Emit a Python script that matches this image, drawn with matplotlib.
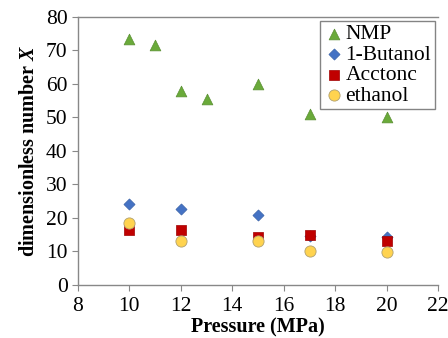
import matplotlib
matplotlib.use("Agg")
import matplotlib.pyplot as plt

nmp_x = [10, 11, 12, 13, 15, 17, 20]
nmp_y = [73.5, 71.5, 58, 55.5, 60, 51, 50]
but_x = [10, 12, 15, 17, 20]
but_y = [24.3, 22.7, 21, 14.5, 14.3]
ace_x = [10, 12, 15, 17, 20]
ace_y = [16.5, 16.5, 14.2, 15, 13]
eth_x = [10, 12, 15, 17, 20]
eth_y = [18.5, 13, 13.2, 10, 9.7]
labels = ["NMP", "1-Butanol", "Acctonc", "ethanol"]

plt.rcParams['font.family'] = ['Liberation Serif', 'DejaVu Serif']
plt.rcParams['mathtext.fontset'] = 'custom'
plt.rcParams['mathtext.it'] = 'Liberation Serif:italic:bold'
plt.rcParams['mathtext.rm'] = 'Liberation Serif:bold'
fig = plt.figure(figsize=(4.48, 3.38), dpi=100)
ax = fig.add_axes([0.174, 0.157, 0.804, 0.793])

ax.scatter(nmp_x, nmp_y, marker='^', s=60, color='#6aaa3a', edgecolors='#5a8f32', linewidths=0.5, label=labels[0], zorder=3)
ax.scatter(but_x, but_y, marker='D', s=32, color='#4472c4', edgecolors='#3a62a8', linewidths=0.5, label=labels[1], zorder=3)
ax.scatter(ace_x, ace_y, marker='s', s=60, color='#c00000', edgecolors='#a00000', linewidths=0.5, label=labels[2], zorder=3)
ax.scatter(eth_x, eth_y, marker='o', s=65, color='#ffd34f', edgecolors='#b0a070', linewidths=0.6, label=labels[3], zorder=4)

ax.set_xlim(8, 22)
ax.set_ylim(0, 80)
ax.set_xticks(range(8, 23, 2))
ax.set_yticks(range(0, 81, 10))
for s in ['left', 'bottom', 'top']:
    ax.spines[s].set_color('#888888')
    ax.spines[s].set_linewidth(1.0)
ax.spines['right'].set_visible(False)
ax.tick_params(axis='both', colors='#888888', labelcolor='black', labelsize=15.5, length=4, direction='out')
ax.tick_params(axis='x', pad=5)
ax.tick_params(top=False)

fig.text(0.576, 0.002, 'Pressure (MPa)', fontsize=14.5, fontweight='bold', ha='center', va='bottom')
ax.set_ylabel(r'dimensionless number $X$', fontsize=14.5, fontweight='bold', labelpad=5)

leg = ax.legend(loc='upper right', bbox_to_anchor=(0.99, 0.985), fontsize=15.5, frameon=True, fancybox=False,
                handletextpad=0.05, borderpad=0.15, labelspacing=0.02, handlelength=1.0, borderaxespad=0.0)
leg.get_frame().set_edgecolor('#666666')
leg.get_frame().set_linewidth(1.0)

fig.savefig('out.png', dpi=100)
